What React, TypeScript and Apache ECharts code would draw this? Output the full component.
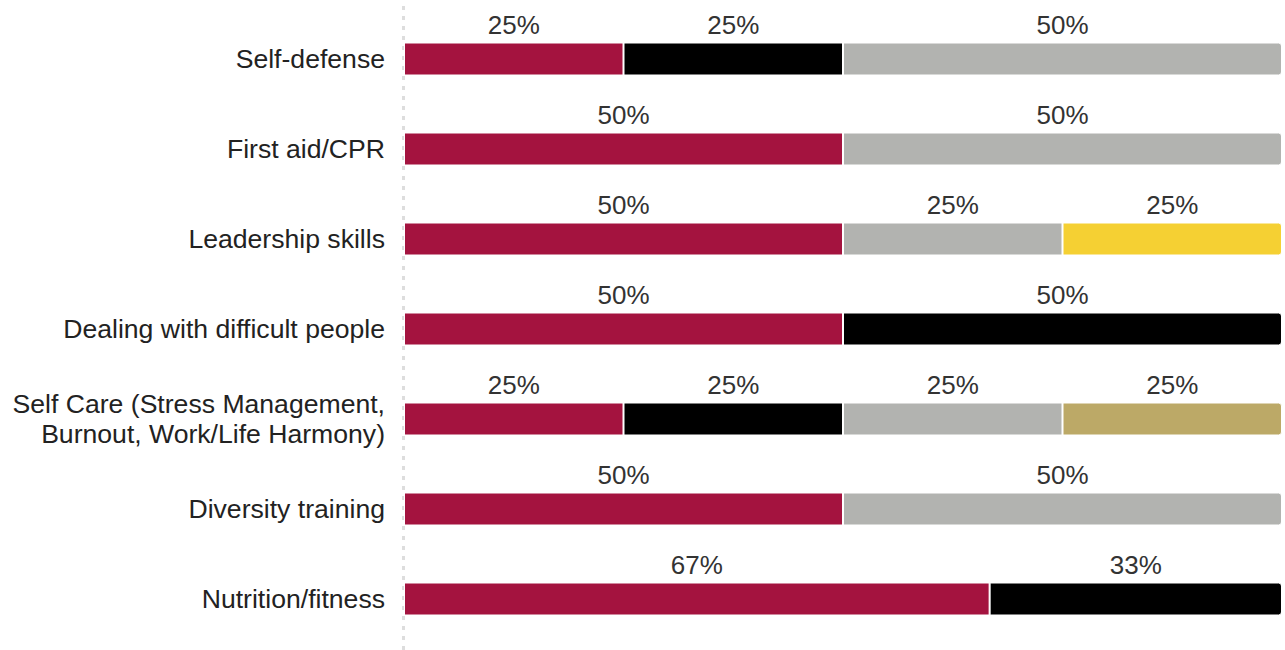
import React, { useEffect, useRef } from "react";
import * as echarts from "echarts";

const categories = [
  "Self-defense",
  "First aid/CPR",
  "Leadership skills",
  "Dealing with difficult people",
  "Self Care (Stress Management,\nBurnout, Work/Life Harmony)",
  "Diversity training",
  "Nutrition/fitness",
];

const crimsonValues = [25, 50, 50, 50, 25, 50, 66.7];
const blackValues = [25, 0, 0, 50, 25, 0, 33.3];
const grayValues = [50, 50, 25, 0, 25, 50, 0];
const yellowValues = [0, 0, 25, 0, 0, 0, 0];
const tanValues = [0, 0, 0, 0, 25, 0, 0];

const seriesDefs = [
  { name: "A", color: "#A4133F", values: crimsonValues },
  { name: "B", color: "#000000", values: blackValues },
  { name: "C", color: "#B2B3B0", values: grayValues },
  { name: "D", color: "#F5D033", values: yellowValues },
  { name: "E", color: "#BCA967", values: tanValues },
];

export default function App() {
  const ref = useRef<HTMLDivElement>(null);
  useEffect(() => {
    if (!ref.current) return;
    const chart = echarts.init(ref.current, null, { renderer: "svg" });
    const lastIdx = categories.map((_, r) => {
      let li = 0;
      seriesDefs.forEach((s, i) => {
        if (s.values[r] > 0) li = i;
      });
      return li;
    });
    const series = seriesDefs.map((s, si) => ({
      name: s.name,
      type: "bar",
      stack: "total",
      barWidth: 33,
      itemStyle: { color: s.color, borderColor: "#ffffff", borderWidth: 1 },
      label: {
        show: true,
        position: "top",
        distance: 5,
        fontSize: 26,
        fontFamily: "Liberation Sans, Arial, sans-serif",
        color: "#333333",
        formatter: (p: any) => (p.value > 0 ? Math.round(p.value) + "%" : ""),
      },
      data: s.values.map((v, r) => ({
        value: v,
        itemStyle: lastIdx[r] === si ? { borderRadius: [0, 3, 3, 0] } : undefined,
      })),
    }));
    chart.setOption({
      animation: false,
      grid: { left: 404, right: 3, top: 14, bottom: 6, containLabel: false },
      xAxis: { type: "value", min: 0, max: 100, show: false },
      yAxis: {
        type: "category",
        inverse: true,
        data: categories,
        axisLine: { show: false },
        axisTick: { show: false },
        axisLabel: {
          margin: 19,
          fontSize: 26.6,
          lineHeight: 30,
          fontFamily: "Liberation Sans, Arial, sans-serif",
          color: "#222222",
          align: "right",
        },
      },
      graphic: [
        {
          type: "line",
          shape: { x1: 403.5, y1: 6, x2: 403.5, y2: 650 },
          style: { stroke: "#dddddd", lineWidth: 3, lineDash: [4, 6] },
          z: -1,
        },
      ],
      series,
    });
    return () => chart.dispose();
  }, []);
  return (
    <div
      ref={ref}
      style={{ position: "absolute", left: 0, top: 0, width: 1285, height: 650 }}
    />
  );
}
